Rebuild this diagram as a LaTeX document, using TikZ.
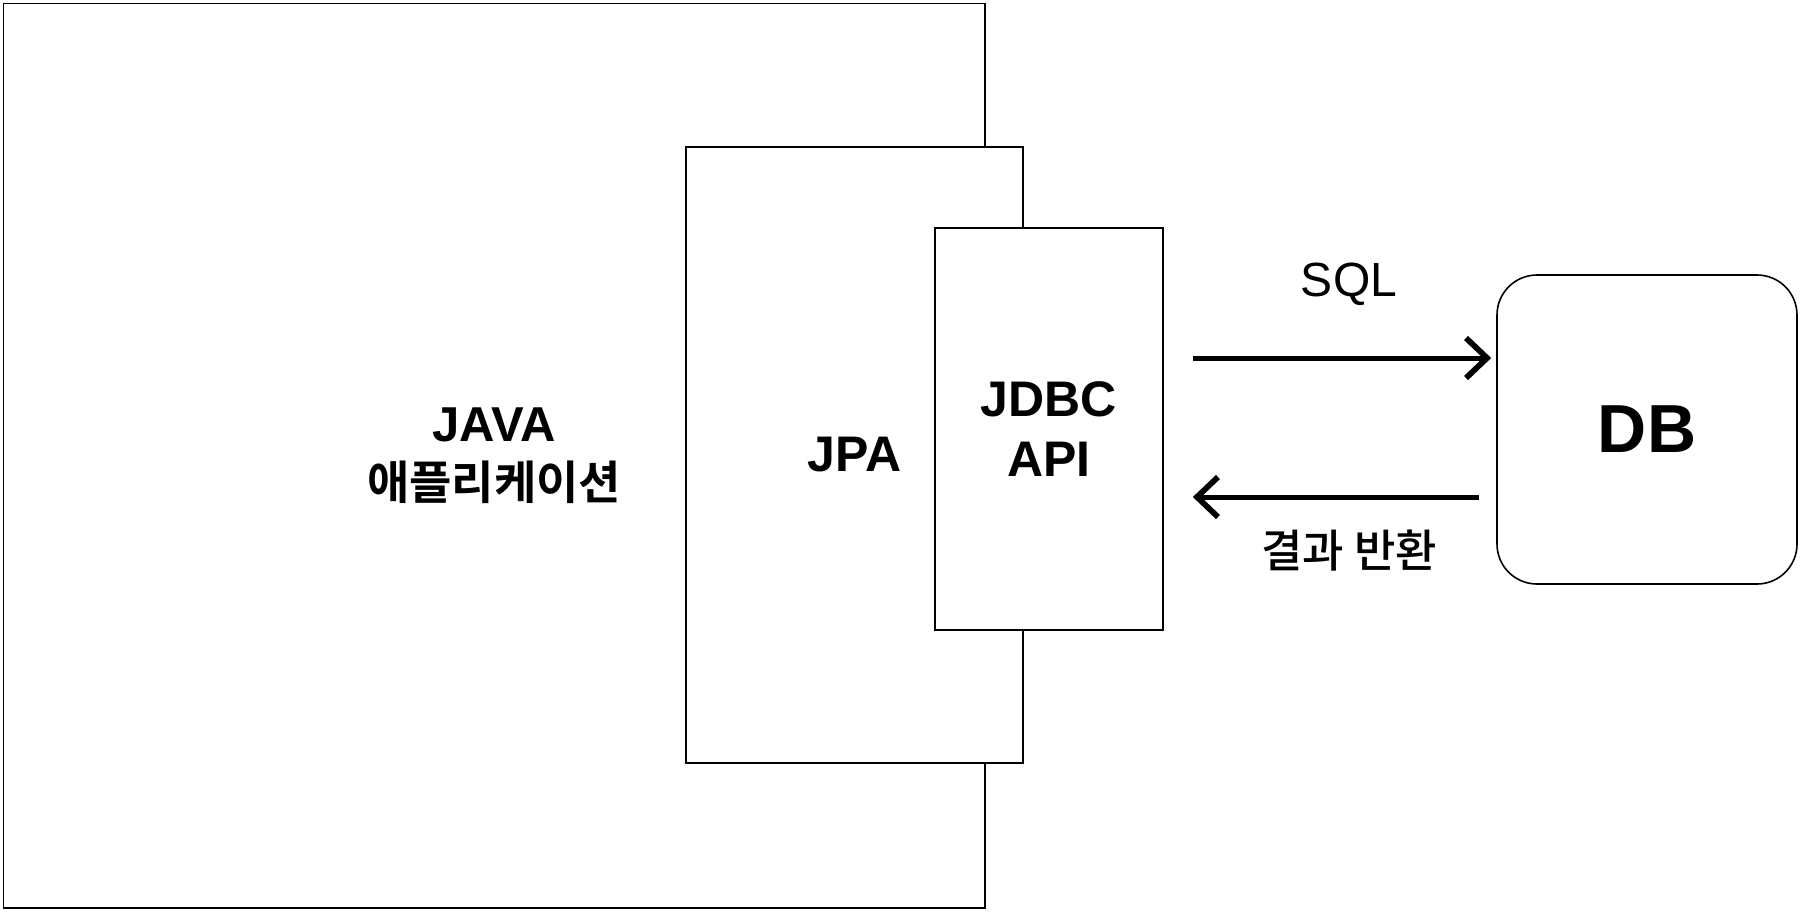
\documentclass[tikz,border=0pt]{standalone}
\usepackage{fontspec}
\setmainfont{Liberation Sans}
\newfontfamily\kr{Noto Sans CJK KR}[UprightFont=* Medium, BoldFont=* Bold]
\usetikzlibrary{arrows.meta}

\begin{document}
\begin{tikzpicture}[x=0.5pt, y=-0.5pt,
    box/.style={draw, fill=white, line width=0.8pt, inner sep=0pt, align=center},
    flow/.style={line width=2.5pt, -{Straight Barb[length=10.5pt, width=20pt, line width=0pt 1.15]}}]
    \useasboundingbox (0,0) rectangle (1800,912);

    % Layers of the application
    \node[box, minimum width=490.75pt, minimum height=452.25pt,
        font=\bfseries\fontsize{24.5}{29}\selectfont] (app) at (494.25, 455.75)
        {JAVA\\{\kr\fontsize{23}{29}\selectfont 애플리케이션}};
    \node[box, minimum width=168.5pt, minimum height=308pt,
        font=\bfseries\fontsize{25}{29}\selectfont] (jpa) at (854.5, 455) {JPA};
    \node[box, minimum width=114pt, minimum height=201pt,
        font=\bfseries\fontsize{25}{30}\selectfont] (jdbc) at (1049, 429) {JDBC\\API};

    % Database
    \node[box, rounded corners=20pt, minimum width=150pt, minimum height=154.5pt,
        font=\bfseries\fontsize{34}{40}\selectfont] (db) at (1647, 429.5) {DB};

    % Request and response
    \draw[flow, shorten <=14.5pt, shorten >=2.5pt]
        ([yshift=35.5pt]jdbc.east) -- ([yshift=35.5pt]jdbc.east -| db.west);
    \draw[flow, shorten <=8.5pt, shorten >=14.5pt]
        ([yshift=-34pt]jdbc.east -| db.west) -- ([yshift=-34pt]jdbc.east);

    \node[font=\fontsize{24}{28}\selectfont] (sql) at (1349, 284) {SQL};
    \node[font=\kr\fontsize{22.5}{28}\selectfont] (result) at (1349, 551) {결과 반환};
\end{tikzpicture}
\end{document}
